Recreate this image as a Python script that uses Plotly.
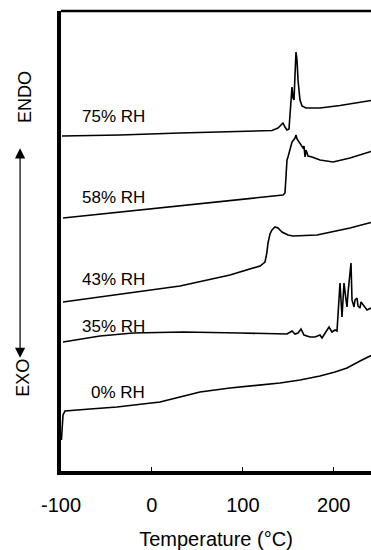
import plotly.graph_objects as go

# DSC thermograms of samples stored at different relative humidities.
# Heat flow is in arbitrary units (curves are offset vertically), endotherm up.

temp_75 = [-98.9, -35.1, 30.9, 96.9, 132.1, 138.7, 142.0, 144.2, 146.4, 148.6, 150.8,
           151.9, 153.0, 154.1, 155.2, 156.3, 157.4, 158.5, 159.6, 160.7, 162.9,
           165.1, 169.5, 184.9, 206.9, 241.0]
flow_75 = [335, 336, 338, 339.5, 340.5, 343, 346, 348, 344, 341, 342,
           356, 376, 384, 373, 371, 396, 419, 411, 391, 371,
           365, 363, 363, 365.5, 370.5]

temp_58 = [-97.8, -35.1, 30.9, 96.9, 144.2, 146.4, 147.5, 148.6, 149.7, 151.9, 154.1,
           157.4, 158.5, 159.6, 162.9, 166.2, 167.3, 168.4, 169.5, 171.7, 176.0,
           184.9, 199.2, 217.9, 241.0]
flow_58 = [253, 259, 265, 271, 276, 278, 296, 311, 314, 323, 329,
           333, 336, 332, 328, 323, 325, 314, 321, 315, 314,
           311, 309, 313, 319.5]

temp_43 = [-97.8, -35.1, 30.9, 85.9, 118.9, 124.4, 126.6, 127.7, 129.9, 132.1, 135.4,
           138.7, 143.1, 149.7, 155.2, 181.6, 217.9, 241.0]
flow_43 = [169, 177, 185, 196, 205, 209, 219, 228, 237, 241, 244,
           243, 239, 236, 235, 236, 243, 248.5]

temp_35 = [-97.8, -57.1, -20.8, 34.2, 96.9, 148.6, 154.1, 157.4, 160.7, 164.0, 167.3,
           173.9, 179.4, 184.9, 187.1, 190.4, 194.8, 198.1, 201.4, 203.6, 204.7,
           206.9, 209.1, 211.3, 213.5, 214.6, 215.7, 219.0, 220.1, 222.3, 223.4,
           225.6, 226.7, 228.9, 230.0, 232.2, 234.4, 236.6, 241.0]
flow_35 = [129, 135, 138, 139, 138, 137, 140, 137, 138, 142, 136,
           134, 134, 136, 133, 138, 144, 139, 141, 140, 154,
           188, 154, 188, 171, 164, 178, 208, 171, 164, 171,
           173, 165, 163, 169, 166, 163, 161, 163]

temp_0 = [-99.5, -98.9, -97.8, -95.6, -84.6, -68.1, -38.4, 8.9, 30.9, 52.9, 85.9,
          140.9, 162.9, 184.9, 201.4, 214.6, 228.9, 241.0]
flow_0 = [31, 46, 56, 60, 61, 62, 64, 69, 74, 79, 83,
          88, 91, 95, 99, 103, 110, 115.5]

curve_names = ["75% RH", "58% RH", "43% RH", "35% RH", "0% RH"]
label_levels = [354.5, 274, 192, 145, 79]

tick_values = [-100, 0, 100, 200]
tick_labels = ["-100", "0", "100", "200"]

FONT = "Liberation Sans, Arial, Helvetica, sans-serif"

fig = go.Figure()
for t, f, name in zip([temp_75, temp_58, temp_43, temp_35, temp_0],
                      [flow_75, flow_58, flow_43, flow_35, flow_0],
                      curve_names):
    fig.add_trace(go.Scatter(x=t, y=f, mode="lines", name=name,
                             line=dict(color="black", width=1.6),
                             showlegend=False, hoverinfo="skip"))

# curve labels, right-aligned just left of 0 °C
for name, lvl in zip(curve_names, label_levels):
    fig.add_annotation(x=-5.5, y=lvl, xref="x", yref="y", text=name,
                       showarrow=False, xanchor="right", yanchor="middle",
                       font=dict(family=FONT, size=17, color="black"))

# ENDO / EXO direction marker
fig.add_annotation(x=-0.118, y=0.814, xref="paper", yref="paper", text="ENDO",
                   textangle=-90, showarrow=False,
                   xanchor="center", yanchor="middle",
                   font=dict(family=FONT, size=18, color="black"))
fig.add_annotation(x=-0.121, y=0.204, xref="paper", yref="paper", text="EXO",
                   textangle=-90, showarrow=False,
                   xanchor="center", yanchor="middle",
                   font=dict(family=FONT, size=18, color="black"))
fig.add_annotation(x=-0.132, y=0.246, xref="paper", yref="paper", text="",
                   showarrow=True, axref="pixel", ayref="pixel", ax=0, ay=-211,
                   arrowside="end+start", arrowhead=2, arrowsize=1.7,
                   arrowwidth=1.2, arrowcolor="black")

# top frame line
fig.add_shape(type="line", xref="paper", yref="paper", x0=0, x1=1, y0=1, y1=1,
              line=dict(color="black", width=2.5))

fig.update_layout(
    width=371, height=550,
    margin=dict(l=61, r=0, t=11, b=79),
    paper_bgcolor="white", plot_bgcolor="white",
    font=dict(family=FONT, color="black"),
    xaxis=dict(range=[-100, 241], showgrid=False, zeroline=False,
               showline=True, linewidth=3.5, linecolor="black",
               tickmode="array", tickvals=tick_values, ticktext=tick_labels,
               ticks="inside", ticklen=4, tickwidth=1, tickcolor="black",
               tickfont=dict(family=FONT, size=20, color="black"),
               ticklabelstandoff=13,
               title=dict(text="Temperature (°C)", standoff=19,
                          font=dict(family=FONT, size=20, color="black"))),
    yaxis=dict(range=[0, 460], showgrid=False, zeroline=False,
               showline=True, linewidth=3.5, linecolor="black",
               showticklabels=False, ticks=""),
)

fig.write_html("out.html")
